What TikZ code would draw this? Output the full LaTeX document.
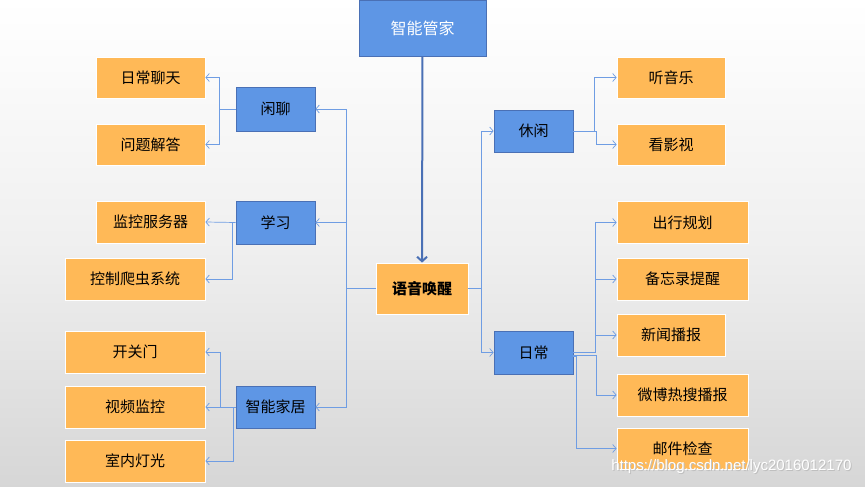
\documentclass[tikz,border=0pt]{standalone}
\usepackage{fontspec}
\setmainfont{Liberation Sans}
\newfontfamily\cjk{Noto Sans CJK SC}
\usepackage{tikz}
\usetikzlibrary{arrows.meta, positioning, calc}

\definecolor{boxblue}{HTML}{5E96E5}
\definecolor{edgeblue}{HTML}{4A70B5}
\definecolor{boxorange}{HTML}{FFB957}
\definecolor{linkblue}{HTML}{6F9DE3}

\begin{document}
\begin{tikzpicture}[x=1pt, y=-1pt,
	bluebox/.style={draw=edgeblue, fill=boxblue, line width=0.8pt, inner sep=0pt, font=\cjk\fontsize{15}{18}\selectfont},
	leafbox/.style={draw=white, fill=boxorange, line width=0.8pt, inner sep=0pt, font=\cjk\fontsize{15}{18}\selectfont},
	link/.style={draw=linkblue, line width=0.7pt, -{Straight Barb[length=3.5pt, width=8pt]}},
	]
	% background
	\shade[top color=white, bottom color=black!16, middle color=white!94!black] (0,0) rectangle (865,487);
	\useasboundingbox (0,0) rectangle (865,487);

	% main boxes
	\node[bluebox, text=white, minimum width=127pt, minimum height=56pt, font=\cjk\fontsize{16}{19}\selectfont] (home) at (422.5,28) {智能管家};
	\node[leafbox, minimum width=92pt, minimum height=51pt, font=\cjk\bfseries\fontsize{15}{18}\selectfont] (wake) at (422,288.5) {语音唤醒};

	% left branch
	\node[bluebox, minimum width=79pt, minimum height=44pt] (chat) at (275.5,109) {闲聊};
	\node[bluebox, minimum width=79pt, minimum height=43pt] (study) at (275.5,222.5) {学习};
	\node[bluebox, minimum width=79pt, minimum height=42pt] (house) at (275.5,407) {智能家居};

	\node[leafbox, minimum width=109pt, minimum height=41pt] (daily) at (150.5,77.5) {日常聊天};
	\node[leafbox, minimum width=109pt, minimum height=41pt] (answer) at (150.5,144.5) {问题解答};
	\node[leafbox, minimum width=109pt, minimum height=42pt] (server) at (150.5,222) {监控服务器};
	\node[leafbox, minimum width=140pt, minimum height=42pt] (crawler) at (135,279) {控制爬虫系统};
	\node[leafbox, minimum width=140pt, minimum height=42pt] (door) at (135,352) {开关门};
	\node[leafbox, minimum width=140pt, minimum height=42pt] (video) at (135,407) {视频监控};
	\node[leafbox, minimum width=140pt, minimum height=42pt] (light) at (135,461) {室内灯光};

	% right branch
	\node[bluebox, minimum width=79pt, minimum height=42pt] (leisure) at (533.5,131) {休闲};
	\node[bluebox, minimum width=79pt, minimum height=43pt] (routine) at (533.5,352.5) {日常};

	\node[leafbox, minimum width=108pt, minimum height=41pt] (music) at (671,77.5) {听音乐};
	\node[leafbox, minimum width=108pt, minimum height=41pt] (movie) at (671,144.5) {看影视};
	\node[leafbox, minimum width=131pt, minimum height=42pt] (travel) at (682.5,222.5) {出行规划};
	\node[leafbox, minimum width=131pt, minimum height=42pt] (memo) at (682.5,279) {备忘录提醒};
	\node[leafbox, minimum width=108pt, minimum height=42pt] (news) at (671,335) {新闻播报};
	\node[leafbox, minimum width=131pt, minimum height=42pt] (weibo) at (682.5,395) {微博热搜播报};
	\node[leafbox, minimum width=131pt, minimum height=41pt] (mail) at (682.5,448.5) {邮件检查};

	% connectors
	\draw[edgeblue, line width=2pt, -{Straight Barb[length=4.5pt, width=10pt]}] (home) -- (wake);

	\coordinate (wl) at (346,288.5);
	\coordinate (wr) at (481,288.5);
	\draw[link] (wake.west) -- (wl) |- (chat.east);
	\draw[link] (wl) |- (study.east);
	\draw[link] (wl) |- (house.east);
	\draw[link] (wake.east) -- (wr) |- (leisure.west);
	\draw[link] (wr) |- (routine.west);

	\draw[link] (chat.west) -- ++(-16,0) |- (daily.east);
	\draw[link] (chat.west) -- ++(-16,0) |- (answer.east);
	\draw[link] (study.west) -- (server.east);
	\draw[link] ([xshift=-3pt]study.west) |- (crawler.east);
	\draw[link] (house.west) -- (video.east);
	\draw[link] ([xshift=-15pt]house.west) |- (door.east);
	\draw[link] ([xshift=-2pt]house.west) |- (light.east);

	\draw[link] (leisure.east) -- ++(21,0) |- (music.west);
	\draw[link] (leisure.east) -- ++(23,0) |- (movie.west);
	\draw[link] (routine.east) -- ++(22,0) |- (travel.west);
	\draw[link] (routine.east) -- ++(22,0) |- (memo.west);
	\draw[link] (routine.east) -- ++(22,0) |- (news.west);
	\draw[link] ([yshift=-3pt]routine.east) -- ++(23,0) |- (weibo.west);
	\draw[link] ([yshift=-4pt]routine.east) -- ++(3,0) |- (mail.west);

	% watermark
	\node[text=black!25, font=\fontsize{15}{18}\selectfont, anchor=east] at (856,468) {https://blog.csdn.net/lyc2016012170};
	\node[text=white, font=\fontsize{15}{18}\selectfont, anchor=east] (mark) at (855,467) {https://blog.csdn.net/lyc2016012170};
\end{tikzpicture}
\end{document}
